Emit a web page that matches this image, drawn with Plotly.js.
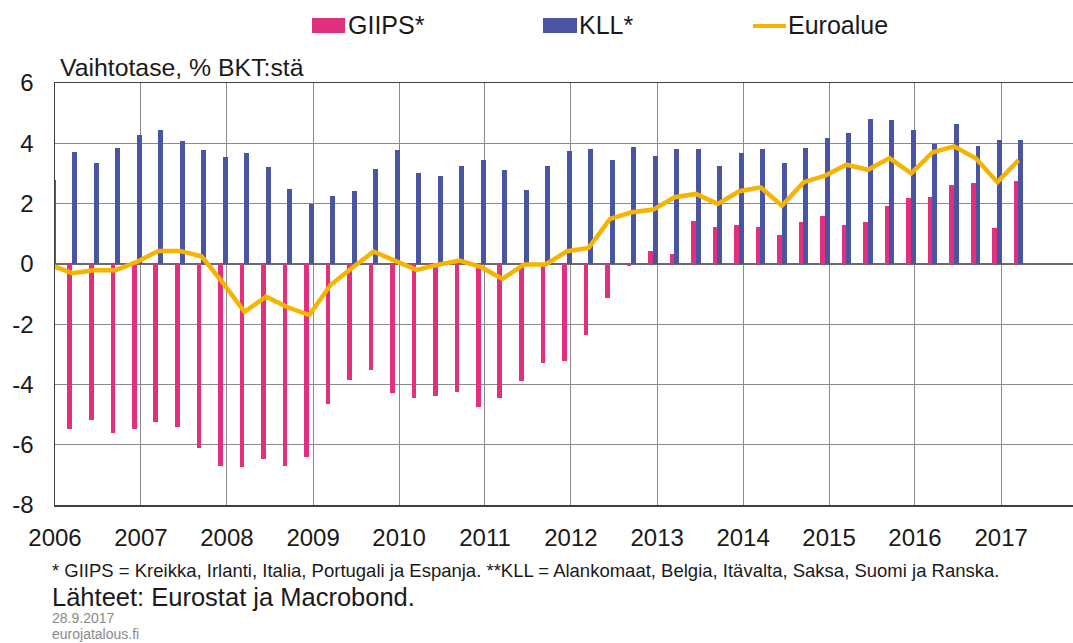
<!DOCTYPE html>
<html>
<head>
<meta charset="utf-8">
<script src="https://cdn.plot.ly/plotly-3.0.1.min.js"></script>
<style>
html,body{margin:0;padding:0;background:#ffffff;}
#chart{width:1073px;height:643px;}
</style>
</head>
<body>
<div id="chart"></div>
<script>
// Quarter-end dates (2005Q4 ... 2017Q1)
const quarters = [
  '2005-12-31',
  '2006-03-31','2006-06-30','2006-09-30','2006-12-31',
  '2007-03-31','2007-06-30','2007-09-30','2007-12-31',
  '2008-03-31','2008-06-30','2008-09-30','2008-12-31',
  '2009-03-31','2009-06-30','2009-09-30','2009-12-31',
  '2010-03-31','2010-06-30','2010-09-30','2010-12-31',
  '2011-03-31','2011-06-30','2011-09-30','2011-12-31',
  '2012-03-31','2012-06-30','2012-09-30','2012-12-31',
  '2013-03-31','2013-06-30','2013-09-30','2013-12-31',
  '2014-03-31','2014-06-30','2014-09-30','2014-12-31',
  '2015-03-31','2015-06-30','2015-09-30','2015-12-31',
  '2016-03-31','2016-06-30','2016-09-30','2016-12-31',
  '2017-03-31'
];

// GIIPS* current account, % of GDP
const giips = [
  null,
  -5.48, -5.18, -5.61, -5.48,
  -5.26, -5.42, -6.11, -6.69,
  -6.74, -6.47, -6.69, -6.41,
  -4.66, -3.85, -3.52, -4.29,
  -4.46, -4.39, -4.24, -4.75,
  -4.46, -3.88, -3.30, -3.22,
  -2.35, -1.13, -0.07, 0.44,
  0.33, 1.41, 1.22, 1.30,
  1.22, 0.97, 1.40, 1.60,
  1.30, 1.40, 1.92, 2.20,
  2.22, 2.61, 2.69, 1.19,
  2.76
];

// KLL** current account, % of GDP
const kll = [
  2.77,
  3.72, 3.34, 3.83, 4.27,
  4.43, 4.06, 3.78, 3.56,
  3.67, 3.23, 2.49, 1.99,
  2.24, 2.41, 3.15, 3.78,
  3.01, 2.90, 3.25, 3.45,
  3.12, 2.46, 3.25, 3.76,
  3.80, 3.45, 3.89, 3.58,
  3.80, 3.82, 3.24, 3.69,
  3.82, 3.34, 3.85, 4.18,
  4.35, 4.81, 4.77, 4.43,
  3.98, 4.65, 3.90, 4.12,
  4.12
];

// Euro area current account, % of GDP
const euroalue = [
  -0.05,
  -0.31, -0.21, -0.21, 0.07,
  0.43, 0.43, 0.25, -0.64,
  -1.59, -1.09, -1.44, -1.70,
  -0.70, -0.14, 0.41, 0.10,
  -0.20, -0.03, 0.11, -0.11,
  -0.50, -0.02, -0.02, 0.42,
  0.53, 1.49, 1.71, 1.80,
  2.21, 2.32, 1.99, 2.41,
  2.54, 1.93, 2.71, 2.93,
  3.29, 3.12, 3.51, 3.00,
  3.70, 3.90, 3.50, 2.71,
  3.44
];

const yTicks = [-8, -6, -4, -2, 0, 2, 4, 6];
const seriesNames = ['GIIPS*', 'KLL*', 'Euroalue'];
const colors = ['#E2307F', '#4A54A4', '#F5B400'];

const DAY = 86400000;
const W = 1073, H = 643;
const M = {l: 55, r: 0, t: 83, b: 138};
const plotW = W - M.l - M.r, plotH = H - M.t - M.b;
const px = v => (v - M.l) / plotW;
const py = v => (H - M.b - v) / plotH;

const traces = [
  {type: 'bar', name: seriesNames[0], x: quarters, y: giips,
   offset: -36 * DAY, width: 20 * DAY,
   marker: {color: colors[0], line: {width: 0}}, showlegend: false},
  {type: 'bar', name: seriesNames[1], x: quarters, y: kll,
   offset: -16 * DAY, width: 21 * DAY,
   marker: {color: colors[1], line: {width: 0}}, showlegend: false},
  {type: 'scatter', mode: 'lines', name: seriesNames[2], x: quarters, y: euroalue,
   xaxis: 'x2', line: {color: colors[2], width: 4.5}, showlegend: false}
];

const textCol = '#1a1a1a';
const gridCol = '#8a8a8a';

const shapes = [
  {type: 'rect', xref: 'paper', yref: 'paper', x0: px(312), x1: px(345), y0: py(33), y1: py(18),
   fillcolor: colors[0], line: {width: 0}},
  {type: 'rect', xref: 'paper', yref: 'paper', x0: px(543), x1: px(577), y0: py(33), y1: py(18),
   fillcolor: colors[1], line: {width: 0}},
  {type: 'line', xref: 'paper', yref: 'paper', x0: px(753), x1: px(786), y0: py(26), y1: py(26),
   line: {color: colors[2], width: 4}}
];

const ann = (text, x, y, size, color) => ({
  text: text, xref: 'paper', yref: 'paper', x: px(x), y: py(y),
  xanchor: 'left', yanchor: 'middle', showarrow: false, borderpad: 0,
  font: {size: size, color: color || textCol, family: 'Liberation Sans, Arial, sans-serif'}
});

const annotations = [
  ann(seriesNames[0], 347, 25, 25),
  ann(seriesNames[1], 578, 25, 25),
  ann(seriesNames[2], 787, 25, 25),
  ann('* GIIPS = Kreikka, Irlanti, Italia, Portugali ja Espanja. **KLL = Alankomaat, Belgia, Itävalta, Saksa, Suomi ja Ranska.', 51, 570, 18.5),
  ann('Lähteet: Eurostat ja Macrobond.', 51, 597, 25.5),
  ann('28.9.2017', 51, 618, 14, '#8a8a8a'),
  ann('eurojatalous.fi', 51, 634, 14, '#8a8a8a')
];

const layout = {
  width: W, height: H,
  margin: M,
  paper_bgcolor: '#ffffff', plot_bgcolor: '#ffffff',
  font: {family: 'Liberation Sans, Arial, sans-serif', color: textCol},
  barmode: 'overlay',
  bargap: 0,
  showlegend: false,
  title: {text: 'Vaihtotase, % BKT:stä', x: 60 / W, xanchor: 'left', xref: 'container',
          y: 1 - 67 / H, yanchor: 'middle', yref: 'container',
          font: {size: 24.8, color: textCol}},
  xaxis: {type: 'date', range: ['2006-01-01', '2017-11-02'],
          tick0: '2006-01-01', dtick: 'M12', tickformat: '%Y',
          showgrid: true, gridcolor: gridCol, gridwidth: 1,
          showline: true, linecolor: '#404040', linewidth: 1.5, mirror: true,
          ticks: '', ticklabelstandoff: 11,
          tickfont: {size: 24, color: textCol}, fixedrange: true},
  xaxis2: {type: 'date', overlaying: 'x', range: ['2006-01-16', '2017-11-17'],
           visible: false, showgrid: false, fixedrange: true},
  yaxis: {range: [-8, 6], tickvals: yTicks, ticktext: yTicks.map(String),
          showgrid: true, gridcolor: gridCol, gridwidth: 1,
          zeroline: true, zerolinecolor: '#6a6a6a', zerolinewidth: 1.5,
          showline: true, linecolor: '#404040', linewidth: 1.5,
          ticks: '', ticklabelstandoff: 15,
          tickfont: {size: 24, color: textCol}, fixedrange: true},
  shapes: shapes,
  annotations: annotations
};

Plotly.newPlot('chart', traces, layout, {displayModeBar: false, staticPlot: true});
</script>
</body>
</html>
